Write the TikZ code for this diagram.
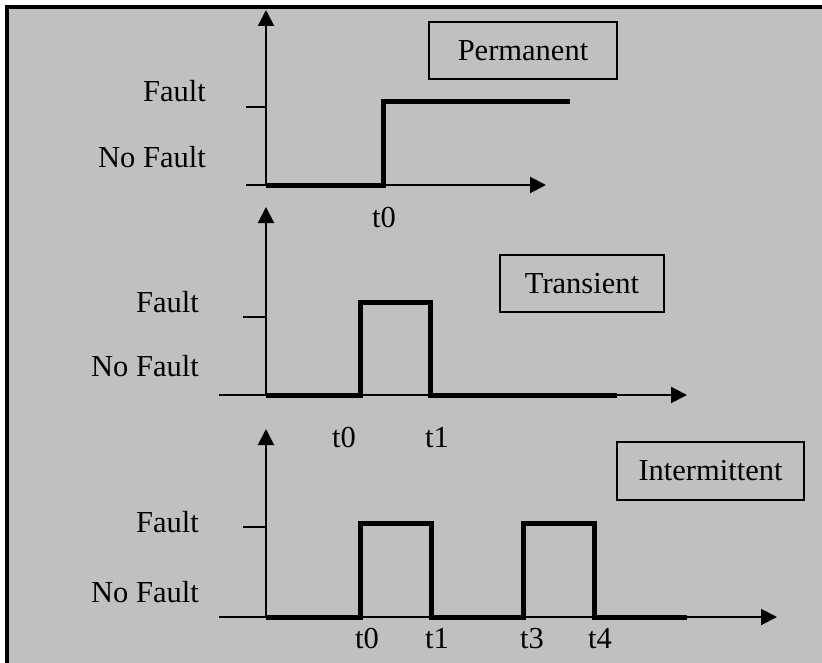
\documentclass[tikz,border=0pt]{standalone}
\usepackage{fontspec}
\setmainfont{Liberation Serif}
\usetikzlibrary{arrows.meta}
\definecolor{panelgray}{HTML}{C0C0C0}
\begin{document}
\begin{tikzpicture}[x=1bp,y=-1bp,
  axis/.style={line width=2bp,-{Triangle[length=16bp,width=16bp]}},
  tickmark/.style={line width=2bp},
  signal/.style={line width=5bp,line join=miter},
  txt/.style={font=\fontsize{30.5bp}{36bp}\selectfont,inner sep=0pt},
  lvl/.style={txt,anchor=base east},
  tlab/.style={txt,anchor=base},
  kindbox/.style={txt,draw,line width=2bp}]

\useasboundingbox (0,0) rectangle (822,663);
\fill[white] (0,0) rectangle (822,663);
\fill[panelgray] (7,7) rectangle (822,663);
\draw[line width=4bp] (7,663) -- (7,7) -- (822,7);

% ---------- Permanent ----------
\coordinate (o1) at (266,185);
\coordinate (y1) at (266,10);
\coordinate (xs1) at (246,185);
\coordinate (xe1) at (546,185);
\coordinate (ts1) at (246,107);
\coordinate (te1) at (266,107);
\draw[axis] (o1) -- (y1);
\draw[axis] (xs1) -- (xe1);
\draw[tickmark] (ts1) -- (te1);
\draw[signal] (o1) -- (383,185) -- (383,102) -- (570,102);
\node[lvl] (f1) at (206,102) {Fault};
\node[lvl] (nf1) at (206,167) {No Fault};
\node[tlab] (t01) at (384,227) {t0};
\node[kindbox,minimum width=188bp,minimum height=57bp] (perm) at (523,50.5) {Permanent};

% ---------- Transient ----------
\coordinate (o2) at (266,395);
\coordinate (y2) at (266,207);
\coordinate (xs2) at (219,395);
\coordinate (xe2) at (687,395);
\coordinate (ts2) at (243,317);
\coordinate (te2) at (266,317);
\draw[axis] (o2) -- (y2);
\draw[axis] (xs2) -- (xe2);
\draw[tickmark] (ts2) -- (te2);
\draw[signal] (o2) -- (360,395) -- (360,302) -- (430,302) -- (430,395) -- (617,395);
\node[lvl] (f2) at (199,312) {Fault};
\node[lvl] (nf2) at (199,376) {No Fault};
\node[tlab] (t02) at (344,447) {t0};
\node[tlab] (t12) at (437,447) {t1};
\node[kindbox,minimum width=164bp,minimum height=57bp] (trans) at (582,283.5) {Transient};

% ---------- Intermittent ----------
\coordinate (o3) at (266,617);
\coordinate (y3) at (266,429);
\coordinate (xs3) at (219,617);
\coordinate (xe3) at (777,617);
\coordinate (ts3) at (243,527);
\coordinate (te3) at (266,527);
\draw[axis] (o3) -- (y3);
\draw[axis] (xs3) -- (xe3);
\draw[tickmark] (ts3) -- (te3);
\draw[signal] (o3) -- (360,617) -- (360,523) -- (431,523) -- (431,617)
  -- (523,617) -- (523,523) -- (594,523) -- (594,617) -- (687,617);
\node[lvl] (f3) at (199,532) {Fault};
\node[lvl] (nf3) at (199,602) {No Fault};
\node[tlab] (t03) at (367,648) {t0};
\node[tlab] (t13) at (437,648) {t1};
\node[tlab] (t33) at (532,648) {t3};
\node[tlab] (t43) at (600,648) {t4};
\node[kindbox,minimum width=187bp,minimum height=58bp] (inter) at (710.5,471) {Intermittent};
\end{tikzpicture}
\end{document}
